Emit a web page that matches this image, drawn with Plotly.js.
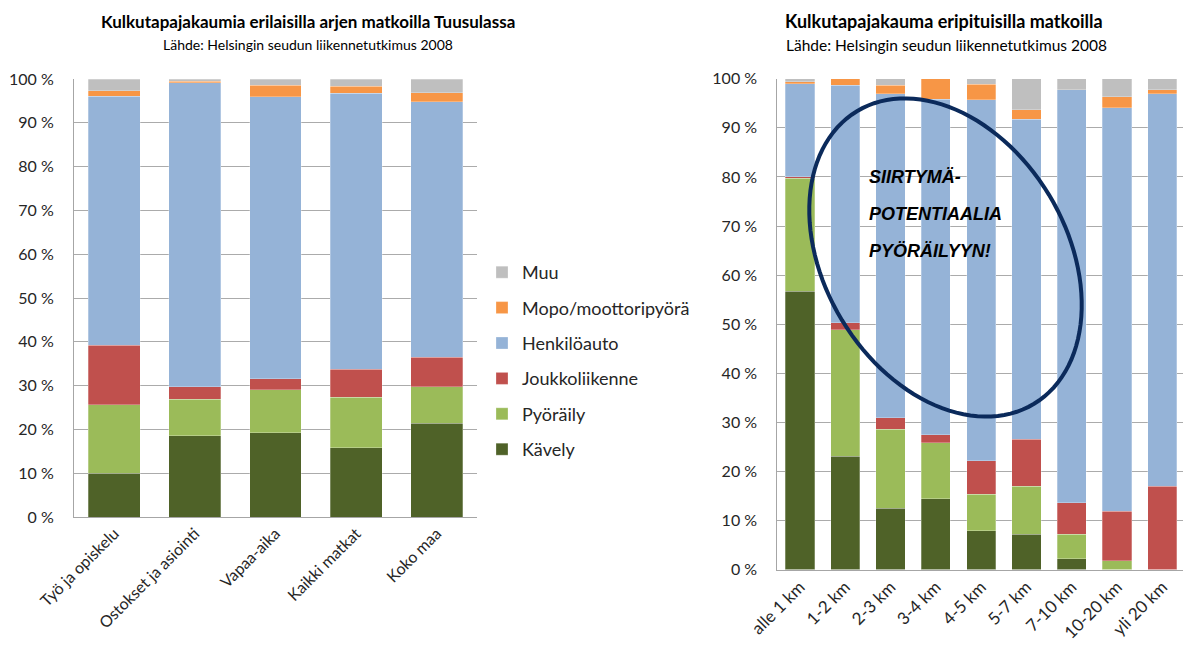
<!DOCTYPE html>
<html>
<head>
<meta charset="utf-8">
<script src="https://cdn.plot.ly/plotly-3.0.1.min.js"></script>
<style>
html,body{margin:0;padding:0;background:#fff;}
#chart{width:1183px;height:646px;}
</style>
</head>
<body>
<div id="chart"></div>
<script>
// ---- Data: left chart (purpose of trip) ----
const leftCategories = ['Työ ja opiskelu', 'Ostokset ja asiointi', 'Vapaa-aika', 'Kaikki matkat', 'Koko maa'];
const leftKavely       = [10.0, 18.6, 19.2, 15.8, 21.4];
const leftPyoraily     = [15.6,  8.3,  9.8, 11.5,  8.3];
const leftJoukko       = [13.6,  2.8,  2.6,  6.4,  6.8];
const leftHenkiloauto  = [56.9, 69.5, 64.3, 63.0, 58.3];
const leftMopo         = [ 1.2,  0.3,  2.7,  1.7,  2.1];
const leftMuu          = [ 2.7,  0.5,  1.4,  1.6,  3.1];

// ---- Data: right chart (trip length) ----
const distCategories = ['alle 1 km', '1-2 km', '2-3 km', '3-4 km', '4-5 km', '5-7 km', '7-10 km', '10-20 km', 'yli 20 km'];
const distKavely      = [56.7, 23.1, 12.5, 14.4,  7.9,  7.2,  2.2,  0.0,  0.0];
const distPyoraily    = [23.0, 25.8, 16.1, 11.4,  7.4,  9.8,  5.0,  1.8,  0.0];
const distJoukko      = [ 0.3,  1.4,  2.3,  1.7,  6.9,  9.5,  6.4, 10.1, 17.0];
const distHenkiloauto = [19.0, 48.4, 66.1, 68.3, 73.5, 65.3, 84.2, 82.2, 80.0];
const distMopo        = [ 0.4,  1.3,  1.7,  4.2,  3.2,  1.9,  0.0,  2.2,  0.8];
const distMuu         = [ 0.6,  0.0,  1.3,  0.0,  1.1,  6.3,  2.2,  3.7,  2.2];

const seriesNames = ['Kävely', 'Pyöräily', 'Joukkoliikenne', 'Henkilöauto', 'Mopo/moottoripyörä', 'Muu'];
const yTickValues = [0, 10, 20, 30, 40, 50, 60, 70, 80, 90, 100];
const yTickLabels = ['0 %', '10 %', '20 %', '30 %', '40 %', '50 %', '60 %', '70 %', '80 %', '90 %', '100 %'];
const calloutLines = ['SIIRTYMÄ-', 'POTENTIAALIA', 'PYÖRÄILYYN!'];

// ---- Styling ----
const colors = ['#4F6228', '#9BBB59', '#C0504D', '#95B3D7', '#F79646', '#BFBFBF'];
const W = 1183, H = 646;
const FONT = 'Lato, "Open Sans", sans-serif';
const px = x => x / W;
const py = y => 1 - y / H;

const leftSeries = [leftKavely, leftPyoraily, leftJoukko, leftHenkiloauto, leftMopo, leftMuu];
const distSeries = [distKavely, distPyoraily, distJoukko, distHenkiloauto, distMopo, distMuu];

const traces = [];
seriesNames.forEach((name, i) => {
  traces.push({
    type: 'bar', name: name, x: leftCategories, y: leftSeries[i],
    xaxis: 'x', yaxis: 'y', legendgroup: 'g' + i, legendrank: 10 - i,
    marker: {color: colors[i], line: {color: 'rgba(255,255,255,0.45)', width: 0.6}},
    hoverinfo: 'skip'
  });
});
seriesNames.forEach((name, i) => {
  traces.push({
    type: 'bar', name: name, x: distCategories, y: distSeries[i],
    xaxis: 'x2', yaxis: 'y2', legendgroup: 'g' + i, legendrank: 10 - i, showlegend: false,
    marker: {color: colors[i], line: {color: 'rgba(255,255,255,0.45)', width: 0.6}},
    hoverinfo: 'skip'
  });
});

// Ellipse (callout) path in pixel space -> paper coords
const ec = {cx: 945.5, cy: 257.5, a: 171, b: 121, theta: 58.8 * Math.PI / 180};
let pathStr = '';
for (let k = 0; k <= 120; k++) {
  const t = 2 * Math.PI * k / 120;
  const X = ec.cx + ec.a * Math.cos(ec.theta) * Math.cos(t) - ec.b * Math.sin(ec.theta) * Math.sin(t);
  const Y = ec.cy + ec.a * Math.sin(ec.theta) * Math.cos(t) + ec.b * Math.cos(ec.theta) * Math.sin(t);
  pathStr += (k === 0 ? 'M' : 'L') + px(X).toFixed(5) + ',' + py(Y).toFixed(5) + ' ';
}
pathStr += 'Z';

const axisCommon = {
  showline: true, linecolor: '#A6A6A6', linewidth: 1,
  ticks: '', fixedrange: true
};

const annotations = [
  {text: '<b>Kulkutapajakaumia erilaisilla arjen matkoilla Tuusulassa</b>', x: px(307.5), y: py(21),
   xref: 'paper', yref: 'paper', showarrow: false, xanchor: 'center', yanchor: 'middle',
   font: {family: FONT, size: 17, color: '#000'}},
  {text: 'Lähde: Helsingin seudun liikennetutkimus 2008', x: px(308), y: py(44),
   xref: 'paper', yref: 'paper', showarrow: false, xanchor: 'center', yanchor: 'middle',
   font: {family: FONT, size: 14, color: '#000'}},
  {text: '<b>Kulkutapajakauma eripituisilla matkoilla</b>', x: px(944), y: py(21),
   xref: 'paper', yref: 'paper', showarrow: false, xanchor: 'center', yanchor: 'middle',
   font: {family: FONT, size: 18, color: '#000'}},
  {text: 'Lähde: Helsingin seudun liikennetutkimus 2008', x: px(947), y: py(45),
   xref: 'paper', yref: 'paper', showarrow: false, xanchor: 'center', yanchor: 'middle',
   font: {family: FONT, size: 15.5, color: '#000'}}
];
const calloutY = [177, 214, 251];
calloutLines.forEach((s, i) => {
  annotations.push({
    text: '<b><i>' + s + '</i></b>', x: px(867), y: py(calloutY[i]),
    xref: 'paper', yref: 'paper', showarrow: false, xanchor: 'left', yanchor: 'middle',
    font: {family: '"Liberation Sans", Arial, sans-serif', size: 18, color: '#000'}
  });
});

const layout = {
  width: W, height: H,
  margin: {l: 0, r: 0, t: 0, b: 0},
  paper_bgcolor: '#fff', plot_bgcolor: '#fff',
  barmode: 'stack', bargap: 0.355,
  font: {family: FONT, size: 15, color: '#262626'},
  showlegend: true,
  legend: {
    x: px(482), y: py(254), xanchor: 'left', yanchor: 'top',
    traceorder: 'grouped', tracegroupgap: 9,
    font: {family: FONT, size: 18, color: '#262626'},
    bgcolor: 'rgba(0,0,0,0)', itemwidth: 30
  },
  xaxis: Object.assign({}, axisCommon, {
    domain: [px(74), px(477)], anchor: 'y', type: 'category',
    tickangle: -45, tickfont: {family: FONT, size: 16, color: '#262626'},
    range: [-0.5, 4.5]
  }),
  yaxis: Object.assign({}, axisCommon, {
    domain: [py(517), py(79)], anchor: 'x', range: [0, 100],
    tickvals: yTickValues, ticktext: yTickLabels,
    showgrid: true, gridcolor: '#ABABAB', gridwidth: 1, zeroline: false,
    tickfont: {family: FONT, size: 16, color: '#262626'}, ticklabelstandoff: 16
  }),
  xaxis2: Object.assign({}, axisCommon, {
    domain: [px(777.3), 1], anchor: 'y2', type: 'category',
    tickangle: -45, tickfont: {family: FONT, size: 17, color: '#262626'},
    range: [-0.5, 8.456]
  }),
  yaxis2: Object.assign({}, axisCommon, {
    domain: [py(569.5), py(78.8)], anchor: 'x2', range: [0, 100],
    tickvals: yTickValues, ticktext: yTickLabels,
    showgrid: true, gridcolor: '#ABABAB', gridwidth: 1, zeroline: false,
    tickfont: {family: FONT, size: 16, color: '#262626'}, ticklabelstandoff: 16
  }),
  shapes: [{
    type: 'path', xref: 'paper', yref: 'paper', path: pathStr,
    line: {color: '#0B2A5B', width: 4}, fillcolor: 'rgba(0,0,0,0)', layer: 'above'
  }],
  annotations: annotations
};

Plotly.newPlot('chart', traces, layout, {displayModeBar: false, staticPlot: true});
</script>
</body>
</html>
